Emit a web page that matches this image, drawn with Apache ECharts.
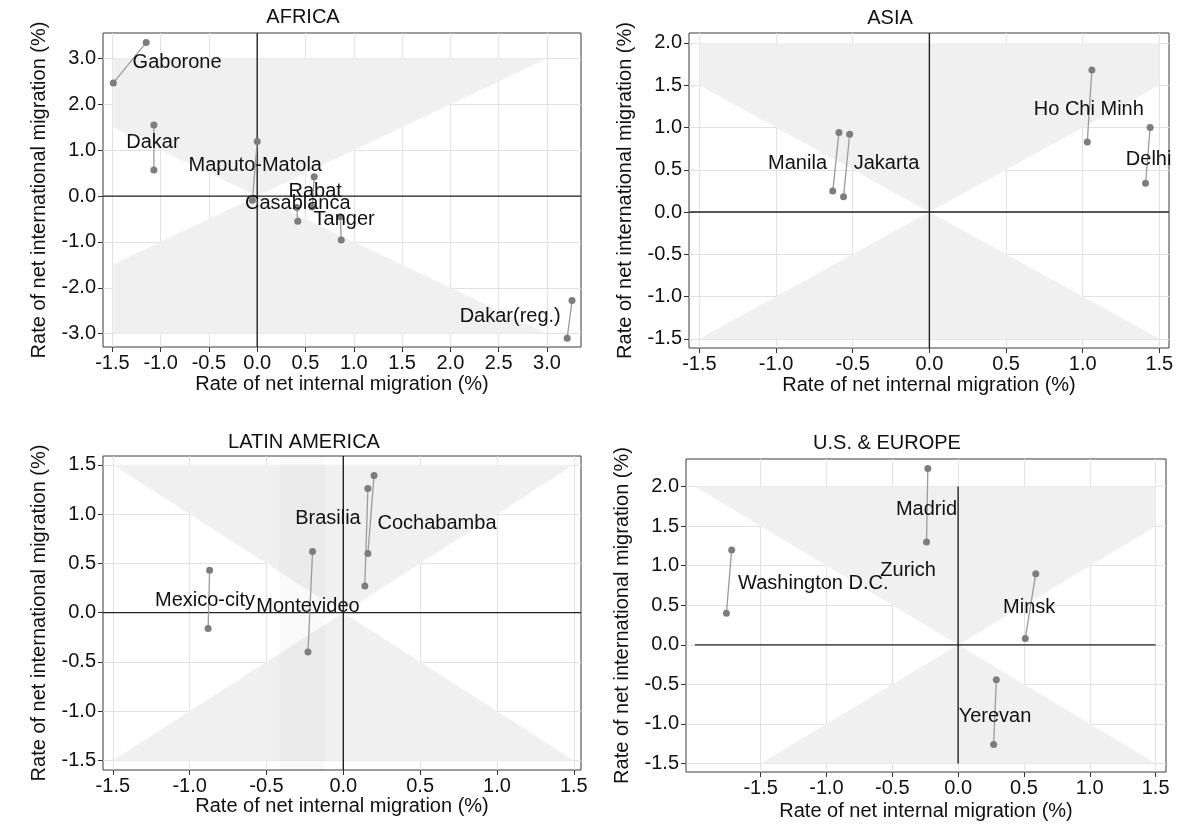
<!DOCTYPE html>
<html><head><meta charset="utf-8">
<script src="https://cdn.jsdelivr.net/npm/echarts@6/dist/echarts.min.js"></script>
<style>html,body{margin:0;padding:0;background:#fff}#c{width:1177px;height:834px}</style>
</head><body><div id="c"></div><script>
const FONT = '"Liberation Sans", Arial, Helvetica, sans-serif';

// ---------- AFRICA ----------
const africaCities = ['Gaborone', 'Dakar', 'Maputo-Matola', 'Rabat', 'Casablanca', 'Tanger', 'Dakar(reg.)'];
const africaInternalA = [-1.49, -1.07, 0.00, 0.59, 0.42, 0.87, 3.26];
const africaInternationalA = [2.47, 1.55, 1.19, 0.42, -0.55, -0.96, -2.28];
const africaInternalB = [-1.15, -1.07, -0.05, 0.57, 0.41, 0.86, 3.21];
const africaInternationalB = [3.35, 0.57, -0.09, -0.24, -0.25, -0.45, -3.10];
const africaLabelX = [-0.83, -1.08, -0.02, 0.60, 0.42, 0.90, 2.62];
const africaLabelY = [2.91, 1.16, 0.67, 0.10, -0.16, -0.52, -2.62];
const africaTicksX = [-1.5, -1.0, -0.5, 0.0, 0.5, 1.0, 1.5, 2.0, 2.5, 3.0];
const africaTicksY = [-3.0, -2.0, -1.0, 0.0, 1.0, 2.0, 3.0];

// ---------- ASIA ----------
const asiaCities = ['Manila', 'Jakarta', 'Ho Chi Minh', 'Delhi'];
const asiaInternalA = [-0.59, -0.52, 1.06, 1.44];
const asiaInternationalA = [0.94, 0.92, 1.68, 1.00];
const asiaInternalB = [-0.63, -0.56, 1.03, 1.41];
const asiaInternationalB = [0.25, 0.18, 0.83, 0.34];
const asiaLabelX = [-0.86, -0.28, 1.04, 1.43];
const asiaLabelY = [0.57, 0.57, 1.21, 0.62];
const asiaTicksX = [-1.5, -1.0, -0.5, 0.0, 0.5, 1.0, 1.5];
const asiaTicksY = [-1.5, -1.0, -0.5, 0.0, 0.5, 1.0, 1.5, 2.0];

// ---------- LATIN AMERICA ----------
const latinCities = ['Mexico-city', 'Montevideo', 'Brasilia', 'Cochabamba'];
const latinInternalA = [-0.87, -0.20, 0.16, 0.20];
const latinInternationalA = [0.43, 0.62, 1.26, 1.39];
const latinInternalB = [-0.88, -0.23, 0.14, 0.16];
const latinInternationalB = [-0.16, -0.40, 0.27, 0.60];
const latinLabelX = [-0.90, -0.23, -0.10, 0.61];
const latinLabelY = [0.12, 0.06, 0.96, 0.90];
const latinTicksX = [-1.5, -1.0, -0.5, 0.0, 0.5, 1.0, 1.5];
const latinTicksY = [-1.5, -1.0, -0.5, 0.0, 0.5, 1.0, 1.5];

// ---------- U.S. & EUROPE ----------
const usEuCities = ['Washington D.C.', 'Madrid', 'Minsk', 'Yerevan'];
const usEuInternalA = [-1.72, -0.23, 0.59, 0.29];
const usEuInternationalA = [1.20, 2.23, 0.90, -0.44];
const usEuInternalB = [-1.76, -0.24, 0.51, 0.27];
const usEuInternationalB = [0.40, 1.30, 0.08, -1.26];
const usEuLabelNames = ['Washington D.C.', 'Madrid', 'Zurich', 'Minsk', 'Yerevan'];
const usEuLabelX = [-1.10, -0.24, -0.38, 0.54, 0.28];
const usEuLabelY = [0.77, 1.71, 0.94, 0.47, -0.90];
const usEuTicksX = [-1.5, -1.0, -0.5, 0.0, 0.5, 1.0, 1.5];
const usEuTicksY = [-1.5, -1.0, -0.5, 0.0, 0.5, 1.0, 1.5, 2.0];

const TEXT = '#111111';
const panels = [
  { title: 'AFRICA', titleAt: [303, 17], grid: { left: 103, top: 33, width: 478, height: 314 },
    xr: [-1.597, 3.353], yr: [-3.292, 3.559], shade: [-1.5, 3.0, -3.0, 3.0], zero: null, xNameGap: 27,
    cities: africaCities, xa: africaInternalA, ya: africaInternationalA, xb: africaInternalB, yb: africaInternationalB,
    labels: africaCities, lx: africaLabelX, ly: africaLabelY, tx: africaTicksX, ty: africaTicksY },
  { title: 'ASIA', titleAt: [890, 18], grid: { left: 689, top: 33, width: 480, height: 315 },
    xr: [-1.568, 1.563], yr: [-1.608, 2.118], shade: [-1.5, 1.5, -1.5, 2.0], zero: null, xNameGap: 27,
    cities: asiaCities, xa: asiaInternalA, ya: asiaInternationalA, xb: asiaInternalB, yb: asiaInternationalB,
    labels: asiaCities, lx: asiaLabelX, ly: asiaLabelY, tx: asiaTicksX, ty: asiaTicksY },
  { title: 'LATIN AMERICA', titleAt: [304, 442], grid: { left: 103, top: 456, width: 478, height: 314 },
    xr: [-1.564, 1.547], yr: [-1.596, 1.589], shade: [-1.5, 1.5, -1.5, 1.5], zero: null, xNameGap: 24, band: [-0.42, -0.12],
    cities: latinCities, xa: latinInternalA, ya: latinInternationalA, xb: latinInternalB, yb: latinInternationalB,
    labels: latinCities, lx: latinLabelX, ly: latinLabelY, tx: latinTicksX, ty: latinTicksY },
  { title: 'U.S. & EUROPE', titleAt: [887, 443], grid: { left: 686, top: 459, width: 480, height: 313 },
    xr: [-2.067, 1.579], yr: [-1.607, 2.349], shade: [-2.0, 1.5, -1.5, 2.0], zero: [-2.0, 1.5, -1.5, 2.0], xNameGap: 29,
    cities: usEuCities, xa: usEuInternalA, ya: usEuInternationalA, xb: usEuInternalB, yb: usEuInternationalB,
    labels: usEuLabelNames, lx: usEuLabelX, ly: usEuLabelY, tx: usEuTicksX, ty: usEuTicksY }
];

function clipEdge(poly, inside, cut) {
  const out = [];
  for (let i = 0; i < poly.length; i++) {
    const a = poly[i], b = poly[(i + 1) % poly.length];
    const ia = inside(a), ib = inside(b);
    if (ia) { out.push(a); if (!ib) out.push(cut(a, b)); }
    else if (ib) out.push(cut(a, b));
  }
  return out;
}
function clipRect(poly, x0, x1, y0, y1) {
  const cx = c => (a, b) => { const t = (c - a[0]) / (b[0] - a[0]); return [c, a[1] + t * (b[1] - a[1])]; };
  const cy = c => (a, b) => { const t = (c - a[1]) / (b[1] - a[1]); return [a[0] + t * (b[0] - a[0]), c]; };
  poly = clipEdge(poly, p => p[0] >= x0, cx(x0));
  poly = clipEdge(poly, p => p[0] <= x1, cx(x1));
  poly = clipEdge(poly, p => p[1] >= y0, cy(y0));
  poly = clipEdge(poly, p => p[1] <= y1, cy(y1));
  return poly;
}

const grids = [], xAxes = [], yAxes = [], series = [], graphics = [];
panels.forEach((p, i) => {
  grids.push(Object.assign({ show: true, borderColor: '#3a3a3a', borderWidth: 1, backgroundColor: 'transparent' }, p.grid));
  const common = {
    type: 'value', gridIndex: i, nameLocation: 'middle',
    nameTextStyle: { fontFamily: FONT, fontSize: 20, color: TEXT },
    axisLine: { show: false, onZero: false },
    axisTick: { show: true, length: 5, inside: false, lineStyle: { color: '#333', width: 1 } },
    axisLabel: { fontFamily: FONT, fontSize: 20, color: TEXT, formatter: v => v.toFixed(1), showMinLabel: true, showMaxLabel: true },
    splitLine: { show: true, lineStyle: { color: '#e2e2e2', width: 1 } }
  };
  xAxes.push(Object.assign({}, common, {
    min: p.xr[0], max: p.xr[1], name: 'Rate of net internal migration (%)', nameGap: p.xNameGap,
    axisTick: Object.assign({}, common.axisTick, { customValues: p.tx }),
    axisLabel: Object.assign({}, common.axisLabel, { customValues: p.tx, margin: 6 })
  }));
  yAxes.push(Object.assign({}, common, {
    min: p.yr[0], max: p.yr[1], name: 'Rate of net international migration (%)', nameGap: 54,
    axisTick: Object.assign({}, common.axisTick, { customValues: p.ty }),
    axisLabel: Object.assign({}, common.axisLabel, { customValues: p.ty, margin: 7 })
  }));

  // shaded bow-tie
  const [sx0, sx1, sy0, sy1] = p.shade;
  const L = 100;
  const polys = [
    clipRect([[0, 0], [L, L], [-L, L]], sx0, sx1, sy0, sy1),
    clipRect([[0, 0], [-L, -L], [L, -L]], sx0, sx1, sy0, sy1)
  ];
  const fills = ['#f0f0f0', '#f0f0f0'];
  if (p.band) {
    polys.push([[p.band[0], p.yr[0]], [p.band[1], p.yr[0]], [p.band[1], p.yr[1]], [p.band[0], p.yr[1]]]);
    fills.push('rgba(0,0,0,0.02)');
  }
  series.push({
    type: 'custom', xAxisIndex: i, yAxisIndex: i, silent: true, z: 1,
    data: polys.map((pl, k) => [pl[0][0], pl[0][1], k]),
    renderItem: (params, api) => ({
      type: 'polygon',
      shape: { points: polys[params.dataIndex].map(pt => api.coord(pt)) },
      style: { fill: fills[params.dataIndex] }
    })
  });

  // zero lines
  const z = p.zero || [p.xr[0], p.xr[1], p.yr[0], p.yr[1]];
  const zl = { type: 'line', xAxisIndex: i, yAxisIndex: i, silent: true, symbol: 'none', z: 2,
    lineStyle: { color: '#222', width: 1.4 }, animation: false };
  series.push(Object.assign({}, zl, { data: [[z[0], 0], [z[1], 0]] }));
  series.push(Object.assign({}, zl, { data: [[0, z[2]], [0, z[3]]] }));

  // city segments
  p.cities.forEach((c, k) => {
    series.push({
      type: 'line', name: c, xAxisIndex: i, yAxisIndex: i, z: 3, animation: false,
      data: [[p.xa[k], p.ya[k]], [p.xb[k], p.yb[k]]],
      symbol: 'circle', symbolSize: 7, showSymbol: true,
      itemStyle: { color: '#7d7d7d' },
      lineStyle: { color: '#9b9b9b', width: 1.3 }
    });
  });

  // labels
  series.push({
    type: 'scatter', xAxisIndex: i, yAxisIndex: i, z: 5, symbolSize: 1, silent: true, animation: false,
    itemStyle: { color: 'rgba(255,255,255,0)' },
    data: p.labels.map((n, k) => ({ name: n, value: [p.lx[k], p.ly[k]] })),
    label: { show: true, position: 'inside', formatter: '{b}', fontFamily: FONT, fontSize: 20,
      color: TEXT, opacity: 1, textBorderWidth: 0, textBorderColor: 'transparent', textShadowBlur: 0 },
    labelLayout: { hideOverlap: false }
  });

  graphics.push({ type: 'text', x: p.titleAt[0], y: p.titleAt[1], z: 10,
    style: { text: p.title, fontFamily: FONT, fontSize: 20, fill: TEXT, align: 'center', verticalAlign: 'middle' } });
});

const chart = echarts.init(document.getElementById('c'), null, { renderer: 'canvas' });
chart.setOption({
  animation: false,
  backgroundColor: '#ffffff',
  grid: grids, xAxis: xAxes, yAxis: yAxes, series: series, graphic: graphics
});
</script></body></html>
